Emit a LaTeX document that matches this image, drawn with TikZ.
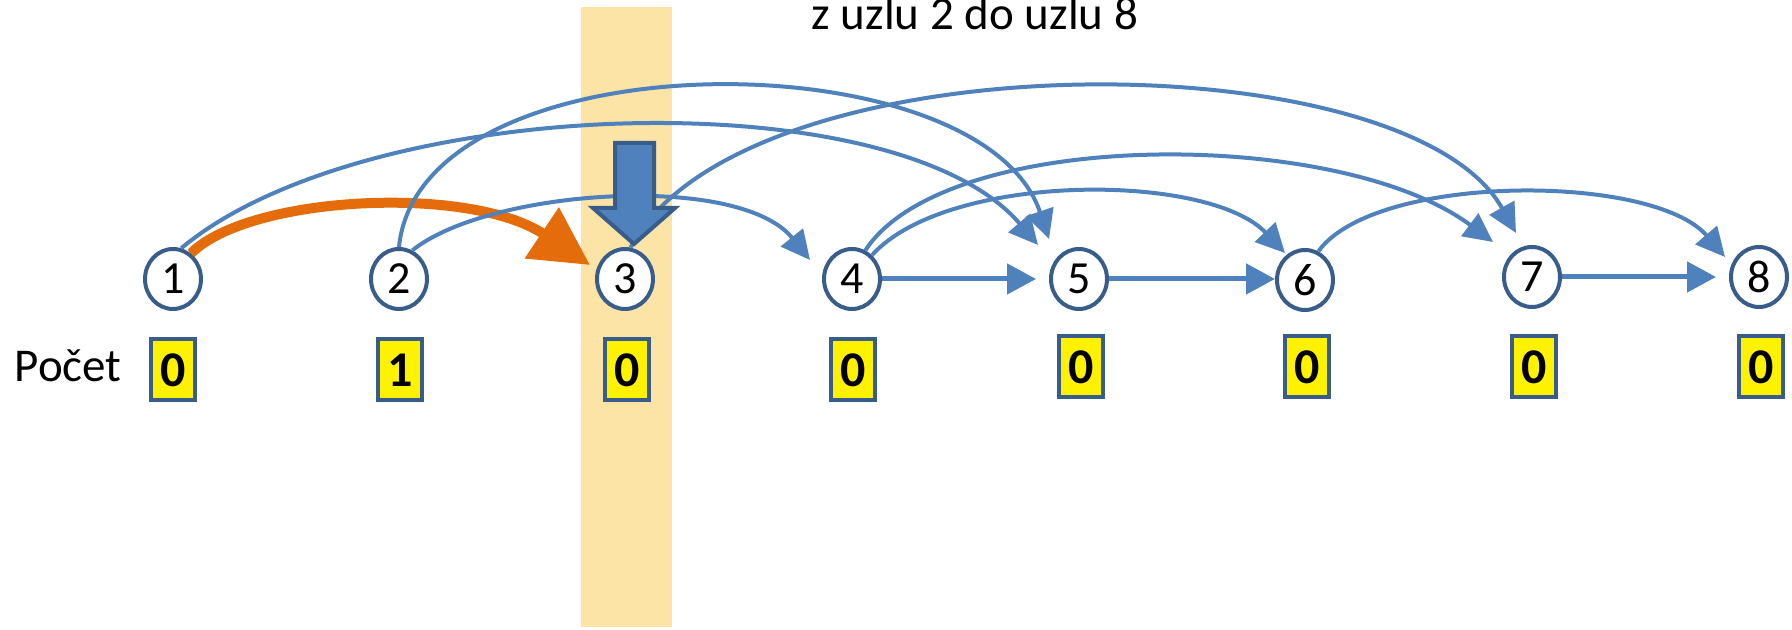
\documentclass[tikz,border=0pt]{standalone}
\usepackage{fontspec}
\setmainfont{Carlito}
\usetikzlibrary{shapes.geometric,arrows.meta,calc}
\definecolor{eblue}{RGB}{79,129,189}
\definecolor{edark}{RGB}{56,93,138}
\definecolor{eorange}{RGB}{228,108,10}
\definecolor{eband}{RGB}{252,228,166}
\begin{document}
\begin{tikzpicture}[x=0.25pt,y=-0.25pt,
  vert/.style={ellipse,draw=edark,fill=white,line width=1pt,minimum width=14pt,minimum height=15pt,inner sep=0pt,font=\fontsize{11.5pt}{13pt}\selectfont},
  cnt/.style={rectangle,draw=edark,fill=yellow,line width=1pt,minimum width=11pt,minimum height=15.25pt,inner sep=0pt,font=\fontsize{12.5pt}{14pt}\selectfont\bfseries},
  bluearc/.style={draw=eblue,line width=1pt,-{Triangle[length=7.25pt,width=7pt]}},
  bluestraight/.style={draw=eblue,line width=1.25pt,-{Triangle[length=7.25pt,width=7.5pt]}},
  orangearc/.style={draw=eorange,line width=2.5pt,-{Triangle[length=14.5pt,width=14.75pt]}},
  bigarrow/.style={fill=eblue,draw=edark,line width=1pt,line join=miter},
  plain/.style={anchor=base west,inner sep=0pt}
]
\useasboundingbox (0,0) rectangle (1792,630);
% highlight band
\fill[eband] (581,7) rectangle (672,627);

% title
\node[plain,font=\fontsize{11.75pt}{14pt}\selectfont] (title) at (811,30) {z uzlu 2 do uzlu 8};

% vertices
\node[vert] (n1) at (173,279) {1};
\node[vert] (n2) at (399,279) {2};
\node[vert] (n3) at (625,279) {3};
\node[vert] (n4) at (852,279) {4};
\node[vert] (n5) at (1079,279) {5};
\node[vert] (n6) at (1305,280) {6};
\node[vert] (n7) at (1532,277) {7};
\node[vert] (n8) at (1759,277) {8};

% counters
\node[plain,font=\fontsize{11.75pt}{14pt}\selectfont] (lbl) at (14,382) {Počet};
\node[cnt] (c1) at (173,370) {0};
\node[cnt] (c2) at (400,370) {1};
\node[cnt] (c3) at (627,370) {0};
\node[cnt] (c4) at (853,370) {0};
\node[cnt] (c5) at (1081,367) {0};
\node[cnt] (c6) at (1307,367) {0};
\node[cnt] (c7) at (1534,367) {0};
\node[cnt] (c8) at (1761,367) {0};

% current edge
\draw[orangearc] (n1.55) .. controls (250,195) and (470,185) .. ($(n3)+(-35,-14)$);

% other edges
\draw[bluearc] (n1.75) .. controls (366,94) and (895,78) .. ($(n5)+(-41,-34)$);
\draw[bluearc] (n2.90) .. controls (420,36) and (981,36) .. ($(n5)+(-30,-40)$);
\draw[bluearc] (n2.65) .. controls (489,189) and (739,172) .. ($(n4)+(-42,-19)$);
\draw[bluearc] (n3.80) .. controls (741,37) and (1406,37) .. ($(n7)+(-16,-44)$);
\draw[bluearc] (n4.50) .. controls (947,172) and (1208,172) .. ($(n6)+(-20,-27)$);
\draw[bluearc] (n4.65) .. controls (946,127) and (1339,127) .. ($(n7)+(-39,-35)$);
\draw[bluearc] (n6.65) .. controls (1375,173) and (1653,173) .. ($(n8)+(-34,-20)$);

\draw[bluestraight] (n4.east) -- ($(n5.west)+(-13,0)$);
\draw[bluestraight] (n5.east) -- (n5.east -| n6.west);
\draw[bluestraight] (n7.east) -- ($(n8.west)+(-13,0)$);

% pointer arrow
\draw[bigarrow] (615,143) -- (654,143) -- (654,208) -- (675,208) -- (634,244) -- (593,208) -- (615,208) -- cycle;
\end{tikzpicture}
\end{document}
